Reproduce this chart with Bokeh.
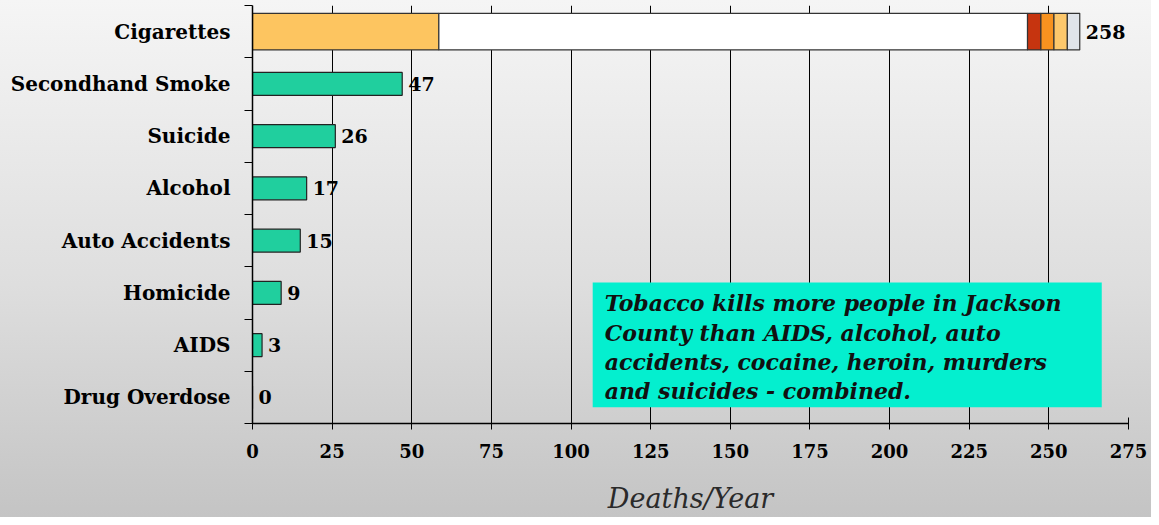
import numpy as np
from bokeh.plotting import figure
from bokeh.models import FixedTicker, BoxAnnotation, Label, ColumnDataSource
from bokeh.core.properties import value
from bokeh.embed import file_html
from bokeh.resources import INLINE

# ---------------- data ----------------
categories = ["Cigarettes", "Secondhand Smoke", "Suicide", "Alcohol",
              "Auto Accidents", "Homicide", "AIDS", "Drug Overdose"]
deaths = [258, 47, 26, 17, 15, 9, 3, 0]
value_labels = ["258", "47", "26", "17", "15", "9", "3", "0"]
# the cigarettes bar is split into coloured pieces
cig_segments = [58.5, 184.8, 4.2, 4.1, 4.2, 3.9]
cig_colors = ["#fdc560", "#ffffff", "#c6340f", "#f7921f", "#fdc86c", "#e0e4ea"]
x_ticks = list(range(0, 276, 25))
note_lines = ["Tobacco kills more people in Jackson",
              "County than AIDS, alcohol, auto",
              "accidents, cocaine, heroin, murders",
              "and suicides - combined."]

# ---------------- layout ----------------
n = len(categories)
ypos = [n - 1 - i for i in range(n)]          # top to bottom
SERIF = "DejaVu Serif"

p = figure(width=1151, height=517, output_backend="svg", toolbar_location=None,
           x_range=(0, 275), y_range=(-0.5, n - 0.5),
           min_border_left=252, min_border_right=23,
           min_border_top=5, min_border_bottom=94)
p.background_fill_color = None
p.border_fill_color = None
p.outline_line_color = None
p.styles = {"background": "linear-gradient(to bottom, #f5f5f5 0%, #dedede 55%, #c4c4c4 100%)"}

# x axis
p.xaxis.ticker = FixedTicker(ticks=x_ticks)
p.xaxis.axis_line_color = "black"
p.xaxis.axis_line_width = 1.5
p.xaxis.major_tick_line_color = "black"
p.xaxis.major_tick_out = 6
p.xaxis.major_tick_in = 6
p.xaxis.minor_tick_line_color = None
p.xaxis.major_label_standoff = 14
p.xaxis.major_label_text_font = SERIF
p.xaxis.major_label_text_font_style = "bold"
p.xaxis.major_label_text_font_size = "18px"
p.xaxis.major_label_text_color = "black"
p.xaxis.axis_label = "Deaths/Year"
p.xaxis.axis_label_text_font = SERIF
p.xaxis.axis_label_text_font_style = "italic"
p.xaxis.axis_label_text_font_size = "27px"
p.xaxis.axis_label_text_color = "#2a2a2a"
p.xaxis.axis_label_standoff = 22

# y axis: labels at category centres, tick marks at band edges
p.yaxis.ticker = FixedTicker(ticks=ypos, minor_ticks=[k - 0.5 for k in range(n + 1)])
p.yaxis.major_label_overrides = {y: c for y, c in zip(ypos, categories)}
p.yaxis.major_tick_line_color = None
p.yaxis.major_tick_out = 0
p.yaxis.major_tick_in = 0
p.yaxis.minor_tick_line_color = "black"
p.yaxis.minor_tick_out = 8
p.yaxis.minor_tick_in = 0
p.yaxis.axis_line_color = "black"
p.yaxis.axis_line_width = 1.5
p.yaxis.major_label_standoff = 14
p.yaxis.major_label_text_font = SERIF
p.yaxis.major_label_text_font_style = "bold"
p.yaxis.major_label_text_font_size = "20px"
p.yaxis.major_label_text_color = "black"

p.xgrid.grid_line_color = "black"
p.xgrid.grid_line_width = 1
p.ygrid.grid_line_color = None

# cigarettes stacked bar
cum = np.cumsum(cig_segments)
lefts = np.concatenate([[0], cum[:-1]])
p.hbar(y=[ypos[0]] * len(cig_segments), left=lefts, right=cum, height=0.7,
       fill_color=cig_colors, line_color="#333333", line_width=1.2)

# other bars
src = ColumnDataSource(dict(y=ypos[1:], v=deaths[1:]))
p.hbar(y="y", left=0, right="v", height=0.44, source=src,
       fill_color="#20cf9e", line_color="#222222", line_width=1.2)

# value labels
label_x = [float(cum[-1])] + deaths[1:]
p.text(x=label_x, y=ypos, text=value_labels, x_offset=6,
       text_baseline="middle", text_align="left",
       text_font=value(SERIF), text_font_style="bold", text_font_size="19px",
       text_color="black")

# note box
p.add_layout(BoxAnnotation(left=106.8, right=266.6, bottom=-0.19, top=2.2,
                           fill_color="#04efcf", fill_alpha=1.0, line_color=None))
line_y = [1.80, 1.24, 0.68, 0.12]
for txt, yy in zip(note_lines, line_y):
    p.add_layout(Label(x=110.6, y=yy, text=txt, text_baseline="middle",
                       text_font=SERIF, text_font_style="bold italic",
                       text_font_size="22px", text_color="#111111"))

open("out.html", "w").write(file_html(p, INLINE))
